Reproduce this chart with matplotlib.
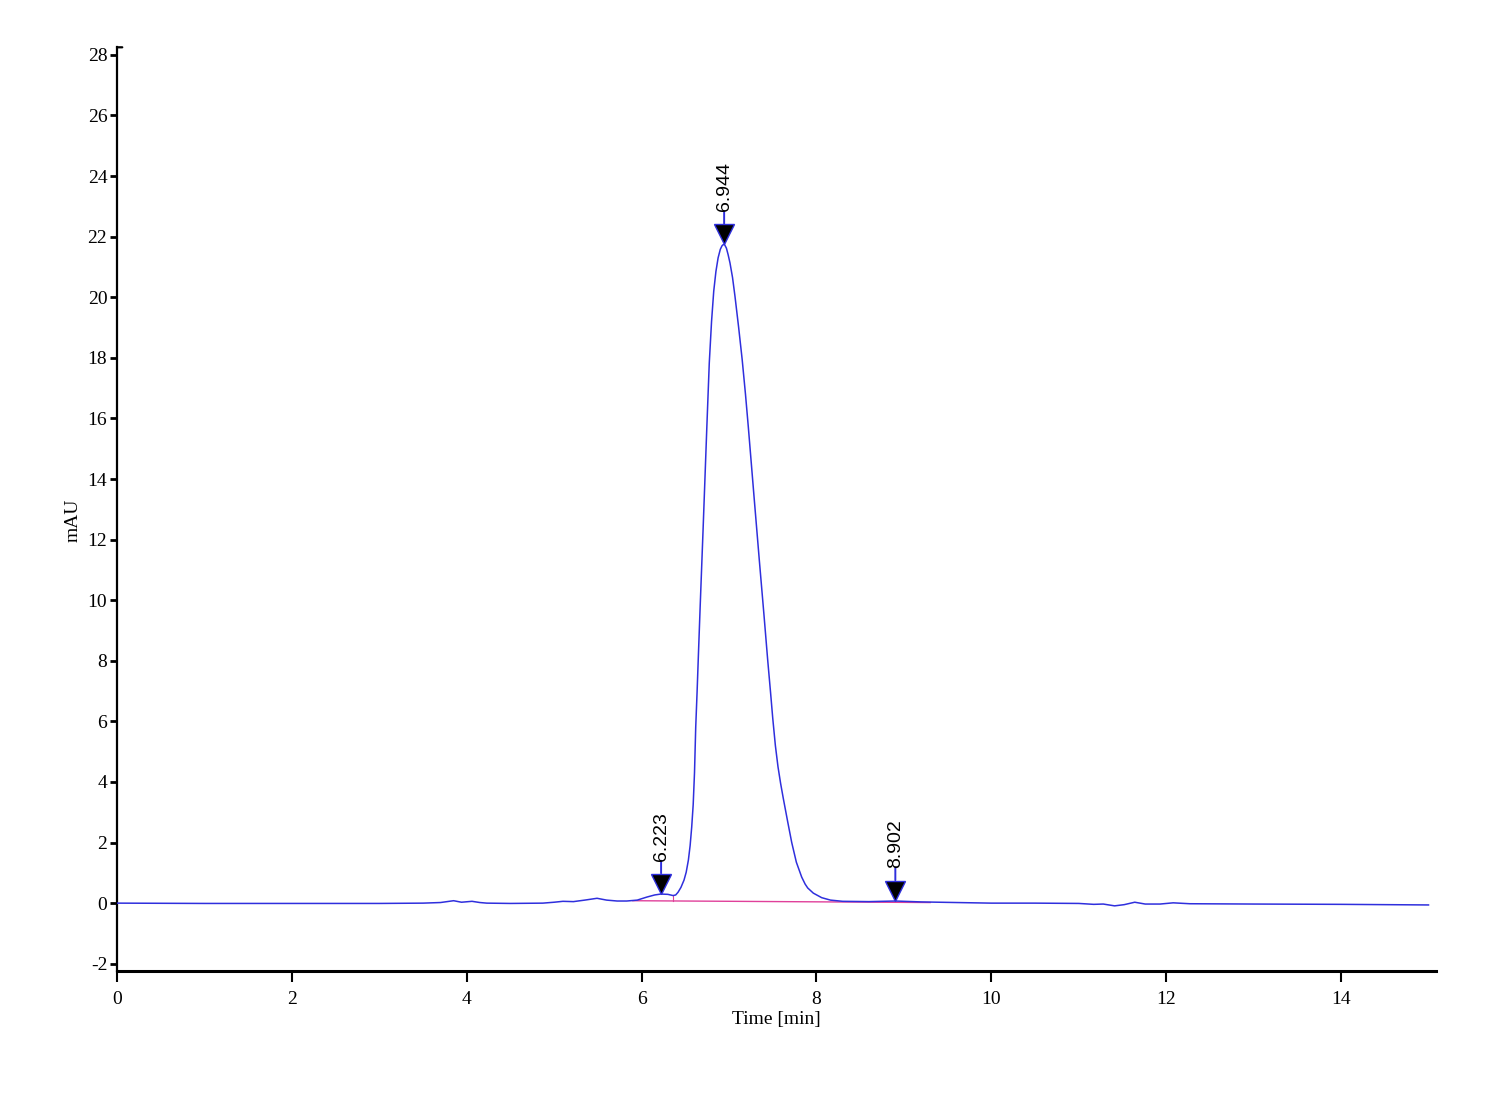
import matplotlib
matplotlib.use("Agg")
import matplotlib.pyplot as plt
from matplotlib.transforms import offset_copy

# ---- data ----
time_min = [0.0, 1.0, 2.0, 3.0, 3.5, 3.7, 3.85, 3.94, 4.06, 4.15, 4.23, 4.5, 4.87,
            5.0, 5.10, 5.22, 5.35, 5.49, 5.60, 5.72, 5.83, 5.95, 6.06, 6.15, 6.22,
            6.30, 6.36, 6.39, 6.417, 6.45, 6.485, 6.51, 6.535, 6.555, 6.573, 6.59,
            6.605, 6.619, 6.635, 6.651, 6.670, 6.690, 6.703, 6.717, 6.745, 6.774,
            6.80, 6.825, 6.85, 6.875, 6.90, 6.92, 6.935, 6.95, 6.97, 6.99, 7.011,
            7.04, 7.068, 7.11, 7.150, 7.188, 7.221, 7.285, 7.346, 7.40, 7.442,
            7.475, 7.50, 7.53, 7.56, 7.59, 7.621, 7.67, 7.717, 7.77, 7.831, 7.87,
            7.90, 7.964, 8.06, 8.16, 8.3, 8.6, 8.9, 9.2, 9.6, 10.0, 10.5, 11.0,
            11.17, 11.28, 11.41, 11.52, 11.64, 11.76, 11.93, 12.08, 12.27, 13.0,
            14.0, 15.0]
signal_mau = [0.0, -0.01, -0.01, -0.01, 0.0, 0.02, 0.08, 0.03, 0.06, 0.02, 0.0, -0.01, 0.0,
              0.03, 0.06, 0.05, 0.10, 0.16, 0.10, 0.07, 0.07, 0.10, 0.20, 0.27, 0.30,
              0.29, 0.25, 0.27, 0.36, 0.52, 0.76, 1.02, 1.42, 1.90, 2.51, 3.25,
              4.30, 5.81, 7.00, 8.30, 9.80, 11.33, 12.32, 13.42, 15.63, 17.83,
              19.20, 20.20, 20.85, 21.30, 21.58, 21.70, 21.74, 21.73, 21.62, 21.40, 21.13,
              20.65, 20.03, 19.00, 17.95, 16.80, 15.70, 13.45, 11.33, 9.50, 8.03,
              6.95, 6.10, 5.20, 4.50, 3.95, 3.45, 2.70, 2.00, 1.35, 0.86, 0.63,
              0.50, 0.33, 0.18, 0.10, 0.06, 0.05, 0.07, 0.04, 0.02, 0.0, 0.0, -0.01,
              -0.04, -0.03, -0.09, -0.05, 0.03, -0.03, -0.03, 0.01, -0.02, -0.03,
              -0.04, -0.06]

peak_times = [6.223, 6.944, 8.902]
peak_heights = [0.30, 21.74, 0.07]
peak_labels = ["6.223", "6.944", "8.902"]

baseline_t = [5.90, 9.30]
baseline_y = [0.08, 0.02]
drop_t = 6.36
drop_y = [0.075, 0.25]

xticks = [0, 2, 4, 6, 8, 10, 12, 14]
yticks = [-2, 0, 2, 4, 6, 8, 10, 12, 14, 16, 18, 20, 22, 24, 26, 28]

# ---- figure ----
fig = plt.figure(figsize=(15, 11), dpi=100)
ax = fig.add_axes([0.078, 0.117, 0.879, 0.840])

line_blue = "#2f2fdd"
ax.plot(baseline_t, baseline_y, color="#e0409a", lw=1.0, zorder=2)
ax.plot([drop_t, drop_t], drop_y, color="#e0409a", lw=0.8, zorder=2)
ax.plot(time_min, signal_mau, color=line_blue, lw=1.1, zorder=3)

ms = 15
for t, h, lab in zip(peak_times, peak_heights, peak_labels):
    tr_tri = offset_copy(ax.transData, fig=fig, x=0, y=ms / 2, units="points")
    ax.plot([t], [h], marker="v", ms=ms, mfc="black", mec=line_blue, mew=1.0,
            transform=tr_tri, zorder=4, clip_on=False)
    tr_s0 = offset_copy(ax.transData, fig=fig, x=0, y=ms, units="points")
    tr_s1 = offset_copy(ax.transData, fig=fig, x=0, y=ms + 9, units="points")
    ax.annotate("", xy=(t, h), xycoords=tr_s1, xytext=(t, h), textcoords=tr_s0,
                arrowprops=dict(arrowstyle="-", color=line_blue, lw=1.4,
                                shrinkA=0, shrinkB=0))
    tr_txt = offset_copy(ax.transData, fig=fig, x=0, y=ms + 9, units="points")
    ax.text(t, h, lab, transform=tr_txt, rotation=90, ha="center", va="bottom",
            fontsize=14, family="Liberation Sans", color="black")

ax.set_xlim(0, 15.08)
ax.set_ylim(-2.25, 28.25)
ax.set_xticks(xticks)
ax.set_yticks(yticks)
ax.set_xticklabels([str(v) for v in xticks], family="Liberation Serif", fontsize=14)
ax.set_yticklabels([str(v) for v in yticks], family="Liberation Serif", fontsize=14)
ax.tick_params(axis="x", direction="out", length=8, width=1.5, pad=6)
ax.tick_params(axis="y", direction="out", length=5, width=2.0, pad=2)

# small hook at the top of the y axis
ax.annotate("", xy=(0.004, 1.0), xycoords="axes fraction", xytext=(0.0, 1.0),
            arrowprops=dict(arrowstyle="-", color="black", lw=1.6, shrinkA=0, shrinkB=0))

for side in ("top", "right"):
    ax.spines[side].set_visible(False)
ax.spines["left"].set_linewidth(1.6)
ax.spines["bottom"].set_linewidth(2.2)

ax.set_xlabel("Time [min]", family="Liberation Serif", fontsize=14, labelpad=2)
ax.set_ylabel("mAU", family="Liberation Serif", fontsize=14)
ax.yaxis.set_label_coords(-0.027, 0.488)

fig.savefig("out.png", dpi=100, facecolor="white")
